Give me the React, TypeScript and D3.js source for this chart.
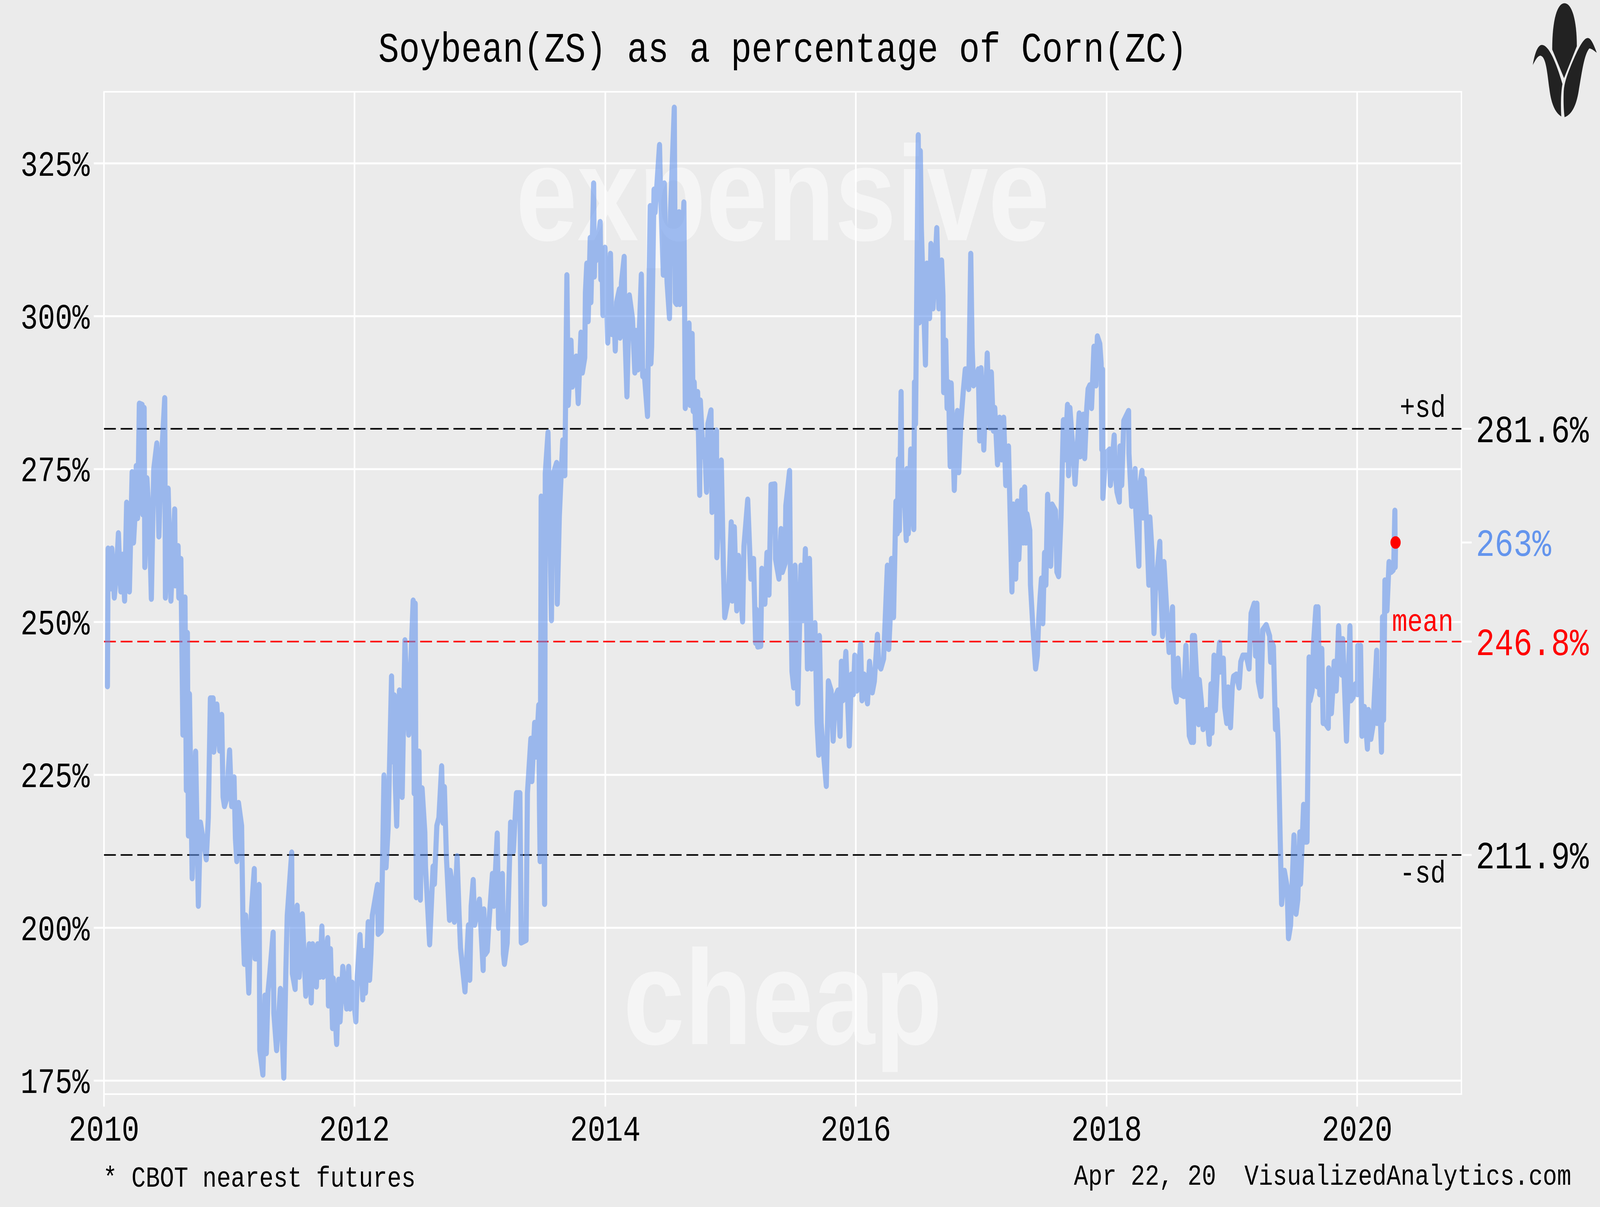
import React from 'react';
import * as d3 from 'd3';

// soybean / corn price ratio (%)
const s2010: [string, number][] = [
  ['2010-01-11', 239.5], ['2010-01-13', 262], ['2010-01-20', 261.5], ['2010-01-21', 255.5], ['2010-01-24', 262],
  ['2010-01-31', 254], ['2010-02-06', 258], ['2010-02-12', 264.5], ['2010-02-16', 258.5], ['2010-02-19', 255],
  ['2010-02-24', 261], ['2010-03-02', 253.5], ['2010-03-08', 269.5], ['2010-03-16', 255], ['2010-03-24', 274.5],
  ['2010-03-28', 263], ['2010-04-01', 267], ['2010-04-05', 275.5], ['2010-04-09', 267], ['2010-04-14', 285.7],
  ['2010-04-22', 285.5], ['2010-04-24', 267.6], ['2010-04-28', 285], ['2010-04-30', 259], ['2010-05-06', 273.5],
  ['2010-05-13', 267], ['2010-05-19', 253.8], ['2010-05-26', 275], ['2010-06-04', 279.2], ['2010-06-10', 264],
  ['2010-06-16', 275], ['2010-06-27', 286.6], ['2010-06-29', 254], ['2010-07-07', 271.8], ['2010-07-15', 253.5],
  ['2010-07-26', 268.4], ['2010-07-28', 256], ['2010-08-05', 262.4], ['2010-08-07', 254], ['2010-08-13', 260.3],
  ['2010-08-19', 231.6], ['2010-08-25', 254], ['2010-08-29', 222.5], ['2010-09-01', 248.2], ['2010-09-04', 215.1],
  ['2010-09-07', 238.2], ['2010-09-15', 208.1], ['2010-09-20', 220], ['2010-09-25', 228.8], ['2010-10-03', 203.6],
  ['2010-10-09', 217.2], ['2010-10-26', 211.2], ['2010-11-01', 218], ['2010-11-07', 237.5], ['2010-11-15', 237.5],
  ['2010-11-17', 228.8], ['2010-11-26', 236.5], ['2010-12-04', 229], ['2010-12-10', 234.8], ['2010-12-14', 221.4],
  ['2010-12-18', 219.9], ['2010-12-24', 221],
];
const s2011: [string, number][] = [
  ['2011-01-02', 229], ['2011-01-08', 219.9], ['2011-01-15', 224.6], ['2011-01-19', 214.6], ['2011-01-23', 210.9],
  ['2011-01-28', 220.4], ['2011-02-06', 216.7], ['2011-02-10', 200.9], ['2011-02-14', 194.1], ['2011-02-18', 202],
  ['2011-02-27', 189.4], ['2011-03-03', 197.8], ['2011-03-07', 203], ['2011-03-15', 209.6], ['2011-03-17', 195],
  ['2011-03-23', 195], ['2011-03-29', 207], ['2011-03-31', 180], ['2011-04-09', 176], ['2011-04-15', 188.9],
  ['2011-04-19', 179.5], ['2011-04-24', 189.5], ['2011-04-29', 192.5], ['2011-05-09', 199.2], ['2011-05-11', 186],
  ['2011-05-19', 180], ['2011-05-30', 190], ['2011-06-09', 175.5], ['2011-06-15', 193], ['2011-06-19', 202],
  ['2011-07-02', 212.3], ['2011-07-04', 192.5], ['2011-07-12', 190], ['2011-07-18', 203.6], ['2011-07-24', 192],
  ['2011-08-02', 202.2], ['2011-08-12', 188.9], ['2011-08-22', 197.3], ['2011-08-28', 187.8], ['2011-09-01', 197.3],
  ['2011-09-12', 190.4], ['2011-09-16', 197.3], ['2011-09-22', 192], ['2011-09-28', 200.2], ['2011-10-02', 192],
  ['2011-10-15', 198.3], ['2011-10-17', 187.3], ['2011-10-23', 196.5], ['2011-10-29', 183.6], ['2011-10-31', 191.7],
  ['2011-11-10', 181], ['2011-11-16', 191.5], ['2011-11-20', 184.7], ['2011-11-28', 193.6], ['2011-12-09', 186.8],
  ['2011-12-15', 193.6], ['2011-12-19', 186.8], ['2011-12-25', 191],
];
const s2012: [string, number][] = [
  ['2012-01-05', 184.7], ['2012-01-09', 192], ['2012-01-17', 198.8], ['2012-01-19', 196.2], ['2012-01-25', 188.3],
  ['2012-01-29', 196.2], ['2012-02-02', 189.4], ['2012-02-10', 200.9], ['2012-02-14', 191.5], ['2012-02-18', 195.7],
  ['2012-02-22', 202], ['2012-03-08', 207], ['2012-03-10', 199], ['2012-03-19', 199.5], ['2012-03-23', 211.4],
  ['2012-03-27', 224.9], ['2012-04-02', 209.9], ['2012-04-08', 216.2], ['2012-04-18', 241.1], ['2012-04-22', 227.2],
  ['2012-04-26', 238], ['2012-04-29', 223.5], ['2012-05-03', 216.7], ['2012-05-11', 238.8], ['2012-05-19', 221.4],
  ['2012-05-27', 247], ['2012-06-03', 236.7], ['2012-06-07', 231.6], ['2012-06-15', 246.1], ['2012-06-20', 253.5],
  ['2012-06-23', 222], ['2012-06-26', 253], ['2012-06-29', 205], ['2012-07-07', 228.8], ['2012-07-11', 204.6],
  ['2012-07-16', 222.8], ['2012-07-24', 215.6], ['2012-07-26', 209.9], ['2012-08-07', 197.3], ['2012-08-17', 210],
  ['2012-08-21', 207.2], ['2012-08-28', 216.7], ['2012-09-03', 218], ['2012-09-11', 226.4], ['2012-09-15', 217.2],
  ['2012-09-19', 223], ['2012-09-25', 211.4], ['2012-10-04', 201.3], ['2012-10-06', 209.3], ['2012-10-14', 206.2],
  ['2012-10-18', 201], ['2012-10-26', 211.7], ['2012-11-01', 202], ['2012-11-05', 196.7], ['2012-11-18', 189.6],
  ['2012-11-28', 200.4], ['2012-12-02', 191.5], ['2012-12-06', 203.5], ['2012-12-12', 207.8], ['2012-12-16', 200.5],
  ['2012-12-22', 202], ['2012-12-30', 204.6],
];
const s2013: [string, number][] = [
  ['2013-01-10', 193.1], ['2013-01-12', 203], ['2013-01-16', 195.7], ['2013-01-22', 196.2], ['2013-01-26', 200.2],
  ['2013-02-06', 208.8], ['2013-02-10', 203.6], ['2013-02-20', 215.4], ['2013-02-22', 207.8], ['2013-02-24', 200],
  ['2013-03-07', 208.8], ['2013-03-10', 195.7], ['2013-03-13', 194.1], ['2013-03-21', 197.5], ['2013-03-31', 217.2],
  ['2013-04-08', 212.5], ['2013-04-17', 222], ['2013-04-27', 222], ['2013-05-01', 197.6], ['2013-05-15', 198],
  ['2013-05-19', 222], ['2013-05-29', 230.9], ['2013-06-01', 224], ['2013-06-09', 233.5], ['2013-06-13', 228],
  ['2013-06-21', 236.4], ['2013-06-23', 220], ['2013-06-25', 210.9], ['2013-06-28', 270.5], ['2013-07-08', 203.9],
  ['2013-07-10', 274.3], ['2013-07-18', 281], ['2013-07-28', 250.3], ['2013-08-01', 274], ['2013-08-12', 276],
  ['2013-08-14', 253], ['2013-08-20', 267.3], ['2013-08-26', 275], ['2013-08-30', 279.7], ['2013-09-05', 274],
  ['2013-09-11', 306.7], ['2013-09-15', 285.5], ['2013-09-23', 296], ['2013-09-27', 288.5], ['2013-10-08', 293.4],
  ['2013-10-14', 285.8], ['2013-10-22', 297.3], ['2013-10-26', 290.8], ['2013-11-02', 293.2], ['2013-11-04', 303.9],
  ['2013-11-08', 308.6], ['2013-11-12', 299.2], ['2013-11-18', 312.8], ['2013-11-20', 302.3], ['2013-11-28', 321.7],
  ['2013-11-30', 306.5], ['2013-12-02', 312.8], ['2013-12-04', 309.1], ['2013-12-17', 315.4], ['2013-12-19', 306],
  ['2013-12-23', 307.5], ['2013-12-25', 300.2], ['2013-12-31', 311.2],
];
const s2014: [string, number][] = [
  ['2014-01-08', 295.7], ['2014-01-16', 310.2], ['2014-01-20', 297.1], ['2014-01-26', 300.7], ['2014-01-30', 294.4],
  ['2014-02-03', 302.3], ['2014-02-11', 304.4], ['2014-02-13', 296.5], ['2014-02-17', 305.5], ['2014-02-25', 309.7],
  ['2014-02-27', 297.6], ['2014-03-05', 286.9], ['2014-03-12', 303.4], ['2014-03-21', 299.7], ['2014-03-28', 290.8],
  ['2014-03-31', 297.6], ['2014-04-06', 291.3], ['2014-04-16', 306.8], ['2014-04-20', 290.2], ['2014-04-24', 291],
  ['2014-05-04', 283.7], ['2014-05-08', 303.4], ['2014-05-12', 318], ['2014-05-14', 292.3], ['2014-05-16', 295],
  ['2014-05-23', 320.7], ['2014-05-26', 317], ['2014-06-08', 328], ['2014-06-10', 322.5], ['2014-06-19', 306.8],
  ['2014-06-22', 321.7], ['2014-06-26', 311.8], ['2014-06-30', 305.5], ['2014-07-07', 299.7], ['2014-07-10', 317],
  ['2014-07-21', 334.1], ['2014-07-24', 302.3], ['2014-07-28', 302], ['2014-08-04', 317], ['2014-08-06', 302],
  ['2014-08-18', 318.6], ['2014-08-22', 285], ['2014-09-02', 298.8], ['2014-09-05', 285.5], ['2014-09-11', 297.1],
  ['2014-09-14', 284.5], ['2014-09-17', 289.2], ['2014-09-21', 281.8], ['2014-09-27', 287.6], ['2014-10-03', 270.8],
  ['2014-10-05', 286.2], ['2014-10-13', 277.1], ['2014-10-17', 279.7], ['2014-10-23', 271.3], ['2014-10-27', 282.4],
  ['2014-11-05', 284.6], ['2014-11-08', 268], ['2014-11-21', 281.3], ['2014-11-22', 260.6], ['2014-12-05', 276.4],
  ['2014-12-11', 259.2], ['2014-12-15', 250.8], ['2014-12-26', 254],
];
const s2015: [string, number][] = [
  ['2015-01-03', 266.3], ['2015-01-06', 253.5], ['2015-01-12', 265.5], ['2015-01-19', 251.9], ['2015-01-24', 260.8],
  ['2015-02-05', 250.1], ['2015-02-09', 262.4], ['2015-02-20', 270], ['2015-03-01', 257.1], ['2015-03-09', 260.3],
  ['2015-03-15', 246.6], ['2015-03-17', 252], ['2015-03-21', 246], ['2015-03-30', 246.1], ['2015-04-02', 258.7],
  ['2015-04-11', 253], ['2015-04-17', 261.3], ['2015-04-23', 254.5], ['2015-04-29', 272.4], ['2015-05-10', 272.5],
  ['2015-05-12', 260.3], ['2015-05-22', 257.1], ['2015-05-28', 265.2], ['2015-06-01', 258.2], ['2015-06-09', 259.6],
  ['2015-06-11', 269], ['2015-06-22', 274.7], ['2015-06-24', 260], ['2015-06-29', 241.9], ['2015-07-04', 239.3],
  ['2015-07-08', 259.2], ['2015-07-16', 236.7], ['2015-07-25', 259.2], ['2015-07-31', 250.3], ['2015-08-07', 261.9],
  ['2015-08-13', 242.4], ['2015-08-19', 260.3], ['2015-08-25', 242.4], ['2015-09-04', 249.8], ['2015-09-10', 233.5],
  ['2015-09-15', 228.3], ['2015-09-17', 247.7], ['2015-09-22', 233.5], ['2015-09-26', 230.4], ['2015-10-07', 223.2],
  ['2015-10-13', 240.3], ['2015-10-21', 238.8], ['2015-10-27', 230.6], ['2015-11-02', 237.7], ['2015-11-10', 238.8],
  ['2015-11-16', 231.4], ['2015-11-20', 243.5], ['2015-11-24', 237.2], ['2015-12-03', 245.1], ['2015-12-13', 229.8],
  ['2015-12-19', 241.4], ['2015-12-25', 238.2], ['2015-12-29', 244.5],
];
const s2016: [string, number][] = [
  ['2016-01-04', 238.8], ['2016-01-15', 246.3], ['2016-01-19', 237.2], ['2016-01-25', 241.4], ['2016-02-04', 236.7],
  ['2016-02-10', 243.5], ['2016-02-18', 238.5], ['2016-02-24', 240.3], ['2016-03-04', 247.9], ['2016-03-08', 243],
  ['2016-03-14', 242.4], ['2016-03-22', 244], ['2016-04-02', 259.2], ['2016-04-06', 245.6], ['2016-04-10', 250.3],
  ['2016-04-14', 260.3], ['2016-04-20', 250.8], ['2016-04-27', 269.7], ['2016-05-01', 264.5], ['2016-05-04', 276.6],
  ['2016-05-07', 265], ['2016-05-12', 287.6], ['2016-05-15', 269.2], ['2016-05-19', 274], ['2016-05-27', 263.4],
  ['2016-05-29', 275], ['2016-06-02', 264.5], ['2016-06-09', 278.2], ['2016-06-18', 265.2], ['2016-06-20', 289.2],
  ['2016-06-23', 282.4], ['2016-07-01', 329.6], ['2016-07-04', 299], ['2016-07-07', 327], ['2016-07-10', 314.4],
  ['2016-07-22', 292.1], ['2016-07-26', 308.6], ['2016-08-03', 299.7], ['2016-08-07', 311.8], ['2016-08-13', 301.3],
  ['2016-08-24', 314.4], ['2016-08-30', 301.3], ['2016-09-07', 309.1], ['2016-09-11', 303.4], ['2016-09-13', 287.6],
  ['2016-09-19', 296], ['2016-09-23', 285], ['2016-09-27', 289.2], ['2016-10-02', 275.5], ['2016-10-05', 289],
  ['2016-10-14', 271.6], ['2016-10-19', 281.8], ['2016-10-23', 284.5], ['2016-10-27', 274.5], ['2016-11-02', 282.4],
  ['2016-11-09', 287.6], ['2016-11-15', 291.3], ['2016-11-21', 291.3], ['2016-11-25', 288.1], ['2016-12-01', 310.2],
  ['2016-12-05', 295], ['2016-12-09', 288.7], ['2016-12-15', 289.2], ['2016-12-23', 291.3], ['2016-12-27', 279.7],
  ['2016-12-31', 291.5],
];
const s2017: [string, number][] = [
  ['2017-01-08', 278.2], ['2017-01-18', 293.9], ['2017-01-22', 286], ['2017-01-26', 281.8], ['2017-01-30', 290.8],
  ['2017-02-05', 281.3], ['2017-02-09', 285], ['2017-02-17', 275.8], ['2017-02-23', 283.4], ['2017-03-01', 276.6],
  ['2017-03-07', 283.4], ['2017-03-13', 272.4], ['2017-03-21', 278.7], ['2017-03-31', 255], ['2017-04-04', 269.2],
  ['2017-04-08', 262.4], ['2017-04-11', 257.1], ['2017-04-16', 269.7], ['2017-04-20', 260.3], ['2017-04-29', 271.5],
  ['2017-05-03', 263], ['2017-05-07', 272], ['2017-05-11', 263], ['2017-05-14', 267.6], ['2017-05-22', 265],
  ['2017-05-24', 256.1], ['2017-06-01', 248.2], ['2017-06-08', 242.4], ['2017-06-13', 244.5], ['2017-06-17', 250.3],
  ['2017-06-21', 254], ['2017-06-25', 257.1], ['2017-06-29', 249.8], ['2017-07-04', 261.3], ['2017-07-08', 256.1],
  ['2017-07-13', 270.8], ['2017-07-22', 259.2], ['2017-07-26', 269.2], ['2017-08-05', 268.2], ['2017-08-09', 258.2],
  ['2017-08-14', 257.5], ['2017-08-21', 267.1], ['2017-08-25', 276], ['2017-08-28', 283], ['2017-09-01', 276.6],
  ['2017-09-09', 285.5], ['2017-09-12', 274], ['2017-09-16', 285], ['2017-09-24', 278.7], ['2017-10-01', 272.6],
  ['2017-10-13', 284.1], ['2017-10-16', 277.1], ['2017-10-25', 283.9], ['2017-10-29', 276.8], ['2017-11-04', 285],
  ['2017-11-08', 288.1], ['2017-11-13', 288.7], ['2017-11-18', 285], ['2017-11-25', 295], ['2017-12-01', 288.7],
  ['2017-12-05', 296.7], ['2017-12-12', 295.5], ['2017-12-16', 292.3], ['2017-12-18', 278.2], ['2017-12-20', 291.3],
  ['2017-12-21', 270.3], ['2017-12-30', 277.6],
];
const s2018: [string, number][] = [
  ['2018-01-10', 278.2], ['2018-01-12', 272.4], ['2018-01-23', 280.5], ['2018-01-26', 274.5], ['2018-01-31', 271.3],
  ['2018-02-07', 269.7], ['2018-02-09', 278.7], ['2018-02-14', 272.4], ['2018-02-20', 282.9], ['2018-03-06', 284.5],
  ['2018-03-07', 277.6], ['2018-03-15', 269], ['2018-03-25', 275], ['2018-03-27', 268.2], ['2018-04-05', 259.2],
  ['2018-04-07', 272], ['2018-04-14', 274.7], ['2018-04-17', 267.1], ['2018-04-21', 273.4], ['2018-04-26', 268.2],
  ['2018-05-04', 256.1], ['2018-05-07', 267.1], ['2018-05-13', 261.7], ['2018-05-19', 248.2], ['2018-05-23', 255],
  ['2018-06-05', 263.1], ['2018-06-07', 256.1], ['2018-06-13', 247.7], ['2018-06-17', 259.8], ['2018-06-23', 254],
  ['2018-07-02', 245.1], ['2018-07-12', 252.4], ['2018-07-16', 239.3], ['2018-07-23', 237], ['2018-07-28', 244],
  ['2018-08-04', 238.2], ['2018-08-14', 237.9], ['2018-08-20', 246.1], ['2018-08-30', 231.4], ['2018-09-05', 230.4],
  ['2018-09-08', 247.7], ['2018-09-11', 230.4], ['2018-09-14', 247.7], ['2018-09-21', 240.3], ['2018-09-26', 233.3],
  ['2018-09-28', 240.5], ['2018-10-04', 237], ['2018-10-09', 232.5], ['2018-10-19', 235.6], ['2018-10-27', 230.1],
  ['2018-11-01', 239.8], ['2018-11-04', 231.9], ['2018-11-10', 244.5], ['2018-11-14', 235.6], ['2018-11-20', 242.4],
  ['2018-11-26', 246.6], ['2018-11-28', 241.9], ['2018-12-07', 244], ['2018-12-11', 236.1], ['2018-12-17', 233.5],
  ['2018-12-21', 239.3], ['2018-12-28', 232.8],
];
const s2019: [string, number][] = [
  ['2019-01-02', 239.3], ['2019-01-06', 241.1], ['2019-01-14', 241.4], ['2019-01-22', 239.3], ['2019-01-27', 243.5],
  ['2019-02-02', 244.5], ['2019-02-12', 244.5], ['2019-02-20', 242.4], ['2019-02-26', 251.4], ['2019-03-07', 253],
  ['2019-03-11', 244.5], ['2019-03-15', 253], ['2019-03-19', 240.3], ['2019-03-27', 237.9], ['2019-04-01', 248.7],
  ['2019-04-11', 249.5], ['2019-04-21', 247.7], ['2019-04-24', 243.5], ['2019-04-28', 246.6], ['2019-05-02', 246],
  ['2019-05-08', 232.5], ['2019-05-12', 235.6], ['2019-05-16', 230.4], ['2019-05-22', 214], ['2019-05-26', 203.9],
  ['2019-06-03', 209.3], ['2019-06-11', 206.7], ['2019-06-15', 198.3], ['2019-06-21', 200.4], ['2019-07-01', 215.1],
  ['2019-07-07', 202.3], ['2019-07-12', 204.6], ['2019-07-18', 215.6], ['2019-07-20', 207.2], ['2019-07-29', 220.1],
  ['2019-08-01', 214.1], ['2019-08-08', 214.1], ['2019-08-14', 244.2], ['2019-08-17', 237.2], ['2019-08-23', 238.8],
  ['2019-08-27', 246.6], ['2019-09-03', 252.4], ['2019-09-06', 239.5], ['2019-09-09', 252.4], ['2019-09-14', 238.2],
  ['2019-09-20', 245.6], ['2019-09-24', 233.5], ['2019-09-30', 233.5], ['2019-10-09', 232.7], ['2019-10-10', 242.4],
  ['2019-10-18', 235.1], ['2019-10-22', 238.8], ['2019-10-26', 243.5], ['2019-11-01', 238.8], ['2019-11-08', 249.3],
  ['2019-11-13', 242.4], ['2019-11-17', 241.4], ['2019-11-20', 247.2], ['2019-12-01', 230.6], ['2019-12-11', 249.3],
  ['2019-12-14', 237.2], ['2019-12-20', 237.7], ['2019-12-27', 239.8],
];
const s2020: [string, number][] = [
  ['2020-01-02', 238.2], ['2020-01-03', 246.1], ['2020-01-07', 239.5], ['2020-01-11', 246.1], ['2020-01-15', 231.4],
  ['2020-01-22', 236.1], ['2020-01-31', 229.3], ['2020-02-03', 235.6], ['2020-02-10', 230.9], ['2020-02-16', 233],
  ['2020-02-27', 245.3], ['2020-02-28', 233.5], ['2020-03-05', 240.3], ['2020-03-12', 228.8], ['2020-03-15', 250.8],
  ['2020-03-18', 234], ['2020-03-22', 256.8], ['2020-03-28', 251.9], ['2020-04-03', 259.8], ['2020-04-09', 258.2],
  ['2020-04-15', 258.5], ['2020-04-17', 260], ['2020-04-20', 268.2], ['2020-04-21', 259], ['2020-04-22', 263],
];

const yTicks = [175, 200, 225, 250, 275, 300, 325];
const xTickYears = [2010, 2012, 2014, 2016, 2018, 2020];
const bandValues = [281.6, 246.8, 211.9];
const bandNames = ['+sd', 'mean', '-sd'];
const bandColors = ['#000000', '#ff0000', '#000000'];
const rightValues = [281.6, 263, 246.8, 211.9];
const rightLabels = ['281.6%', '263%', '246.8%', '211.9%'];
const rightColors = ['#000000', '#6495ed', '#ff0000', '#000000'];

const W = 5000;
const H = 3090;
const panel = { left: 325, right: 4567, top: 235, bottom: 2801 };
const MONO = "'Courier New', 'Liberation Mono', monospace";
const BG = '#ebebeb';

const parse = d3.timeParse('%Y-%m-%d');
const series = [...s2010, ...s2011, ...s2012, ...s2013, ...s2014, ...s2015, ...s2016, ...s2017, ...s2018, ...s2019, ...s2020]
  .map(([d, v]) => ({ date: parse(d) as Date, value: v }));

const CornLogo: React.FC = () => (
  <g transform="translate(4700,0) scale(0.3333)" fill="#222222">
    <path d="M452,380 C452,150 500,25 567,25 C635,25 683,150 683,355 L563,600 Z" />
    <path d="M270,500 C290,400 320,345 355,345 C420,345 490,480 548,645 C535,700 530,800 537,895 C470,860 440,780 425,680 C405,560 395,440 345,428 C315,425 290,470 270,500 Z" />
    <path d="M870,405 C840,340 815,292 785,292 C740,292 680,400 620,520 C590,580 565,640 560,700 C556,780 560,850 568,900 C640,880 680,800 700,700 C730,560 750,420 800,372 C830,375 850,395 870,405 Z" />
  </g>
);

const App: React.FC = () => {
  const x = d3.scaleTime()
    .domain([new Date(2010, 0, 1), new Date(2020, 9, 31)])
    .range([panel.left, panel.right]);
  const y = d3.scaleLinear().domain([172.8, 336.7]).range([panel.bottom, panel.top]);

  const line = d3.line<{ date: Date; value: number }>()
    .x(d => x(d.date))
    .y(d => y(d.value));

  const last = series[series.length - 1];
  const midX = (panel.left + panel.right) / 2;

  return (
    <svg viewBox={`0 0 ${W} ${H}`} preserveAspectRatio="none"
      style={{ position: 'absolute', left: 0, top: 0, width: '100vw', height: '100vh', display: 'block', background: BG }}>
      <rect x={0} y={0} width={W} height={H} fill={BG} />

      {/* grid */}
      {yTicks.map(t => (
        <line key={'gy' + t} x1={panel.left} x2={panel.right} y1={y(t)} y2={y(t)} stroke="#fff" strokeWidth={5} />
      ))}
      {xTickYears.map(t => (
        <line key={'gx' + t} x1={x(new Date(t, 0, 1))} x2={x(new Date(t, 0, 1))} y1={panel.top} y2={panel.bottom} stroke="#fff" strokeWidth={5} />
      ))}
      <rect x={panel.left} y={panel.top} width={panel.right - panel.left} height={panel.bottom - panel.top}
        fill="none" stroke="#fff" strokeWidth={4} />

      {/* watermark words */}
      <text x={midX} y={615} textAnchor="middle" fontFamily="'Liberation Sans', Arial, sans-serif" fontWeight="bold"
        fontSize={345} fill="#fff" fillOpacity={0.5}>expensive</text>
      <text x={midX} y={2673} textAnchor="middle" fontFamily="'Liberation Sans', Arial, sans-serif" fontWeight="bold"
        fontSize={345} fill="#fff" fillOpacity={0.5}>cheap</text>

      {/* mean and sd levels */}
      {bandValues.map((v, i) => (
        <line key={'b' + i} x1={panel.left} x2={panel.right} y1={y(v)} y2={y(v)}
          stroke={bandColors[i]} strokeWidth={4} strokeDasharray="37 15" />
      ))}
      {bandNames.map((n, i) => (
        <text key={'bn' + i} x={4446} y={y(bandValues[i]) + (i === 2 ? 70 : i === 1 ? -27 : -31)}
          textAnchor="middle" fontFamily={MONO} fontSize={80} fill={bandColors[i]}>{n}</text>
      ))}

      {/* ratio line */}
      <path d={line(series) ?? ''} fill="none" stroke="#6495ed" strokeOpacity={0.6} strokeWidth={16}
        strokeLinejoin="round" strokeLinecap="round" />
      <circle cx={x(last.date)} cy={y(last.value)} r={16} fill="#ff0000" />

      {/* left axis */}
      {yTicks.map(t => (
        <g key={'yt' + t}>
          <line x1={panel.left - 32} x2={panel.left} y1={y(t)} y2={y(t)} stroke="#fff" strokeWidth={5} />
          <text x={280} y={y(t)} dy="0.35em" textAnchor="end" fontFamily={MONO} fontSize={90} fill="#000">{t}%</text>
        </g>
      ))}

      {/* bottom axis */}
      {xTickYears.map(t => (
        <g key={'xt' + t}>
          <line x1={x(new Date(t, 0, 1))} x2={x(new Date(t, 0, 1))} y1={panel.bottom} y2={panel.bottom + 32} stroke="#fff" strokeWidth={5} />
          <text x={x(new Date(t, 0, 1))} y={2920} textAnchor="middle" fontFamily={MONO} fontSize={92} fill="#000">{t}</text>
        </g>
      ))}

      {/* right axis */}
      {rightValues.map((v, i) => (
        <g key={'rt' + i}>
          <line x1={panel.right} x2={panel.right + 32} y1={y(v)} y2={y(v)} stroke="#fff" strokeWidth={5} />
          <text x={4612} y={y(v)} dy="0.35em" fontFamily={MONO} fontSize={98} fill={rightColors[i]}>{rightLabels[i]}</text>
        </g>
      ))}

      <text x={midX} y={158} textAnchor="middle" fontFamily={MONO} fontSize={108} fill="#000">
        Soybean(ZS) as a percentage of Corn(ZC)
      </text>
      <text x={322} y={3038} fontFamily={MONO} fontSize={74} fill="#000">* CBOT nearest futures</text>
      <text x={4910} y={3033} textAnchor="end" fontFamily={MONO} fontSize={74} fill="#000" style={{ whiteSpace: 'pre' }}>
        {'Apr 22, 20  VisualizedAnalytics.com'}
      </text>

      <CornLogo />
    </svg>
  );
};

export default App;
